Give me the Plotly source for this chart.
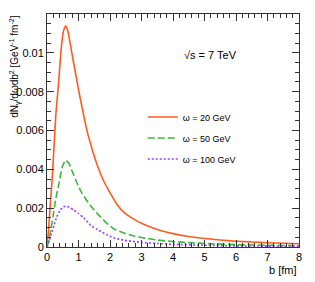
import plotly.graph_objects as go

# impact parameter b [fm]
b_red = [0, 0.05, 0.1, 0.16, 0.2, 0.28, 0.37, 0.45, 0.52, 0.59, 0.65, 0.7, 0.8, 0.9, 1.0, 1.1,
         1.2, 1.3, 1.44, 1.6, 1.8, 2.0, 2.2, 2.44, 2.73, 3.0, 3.5, 4.0, 4.5, 4.86, 5.5, 6.0, 6.5,
         7.0, 7.5, 8.0]
y_red = [0, 0.0009, 0.0021, 0.0034, 0.0045, 0.0068, 0.0085, 0.0102, 0.0111, 0.01138, 0.0112,
         0.0108, 0.0099, 0.0090, 0.0081, 0.0073, 0.0065, 0.0058, 0.0050, 0.0042, 0.0034, 0.0028,
         0.00225, 0.00178, 0.00146, 0.00122, 0.00090, 0.00069, 0.00054, 0.00046, 0.00036,
         0.00030, 0.00026, 0.00022, 0.00019, 0.00017]

b_green = [0, 0.06, 0.1, 0.19, 0.28, 0.38, 0.48, 0.59, 0.7, 0.8, 0.96, 1.1, 1.3, 1.5, 1.7, 1.9,
           2.13, 2.44, 2.73, 3.0, 3.5, 4.0, 5.0, 6.0, 7.0, 8.0]
y_green = [0, 0.00036, 0.0007, 0.00155, 0.0025, 0.00327, 0.0041, 0.00446, 0.0043, 0.0039, 0.00327,
           0.0028, 0.0023, 0.0019, 0.00155, 0.00122, 0.00093, 0.00072, 0.00058, 0.00049, 0.00036,
           0.00028, 0.00018, 0.00012, 0.00009, 0.00007]

b_purple = [0, 0.07, 0.14, 0.22, 0.31, 0.42, 0.52, 0.6, 0.7, 0.85, 1.0, 1.17, 1.4, 1.6, 1.9, 2.13,
            2.44, 2.73, 3.0, 3.5, 4.0, 5.0, 6.0, 7.0, 8.0]
y_purple = [0, 0.0003, 0.0007, 0.0011, 0.00155, 0.0019, 0.00207, 0.0021, 0.00205, 0.0019, 0.00172,
            0.00150, 0.0011, 0.0009, 0.00063, 0.00047, 0.00035, 0.00029, 0.00024, 0.00018, 0.00014,
            0.00009, 0.00006, 0.000045, 0.000035]

names = ["ω = 20 GeV", "ω = 50 GeV", "ω = 100 GeV"]
x_ticks = [0, 1, 2, 3, 4, 5, 6, 7, 8]
y_ticks = [0, 0.002, 0.004, 0.006, 0.008, 0.01]
y_ticklabels = ["0", "0.002", "0.004", "0.006", "0.008", "0.01"]

FONT = "Liberation Sans, Arial, sans-serif"

fig = go.Figure()
series = [
    (b_red, y_red, names[0], "#ff5a1f", "solid"),
    (b_green, y_green, names[1], "#3cb83c", "7px,3px"),
    (b_purple, y_purple, names[2], "#9a40ff", "2px,2px"),
]
for i, (x, y, n, c, d) in enumerate(series):
    fig.add_trace(go.Scatter(x=x, y=y, mode="lines", name=n, legendgroup=str(i),
                             line=dict(color=c, width=1.6, dash=d, shape="spline", smoothing=0.5)))

axis_common = dict(showline=True, linecolor="#333", linewidth=1, mirror="allticks",
                   ticks="inside", ticklen=7, tickcolor="#333", showgrid=False, zeroline=False,
                   automargin=False,
                   tickfont=dict(family=FONT, size=11, color="#000"))

fig.update_xaxes(range=[0, 8], tickvals=x_ticks, ticktext=[str(v) for v in x_ticks],
                 minor=dict(ticks="inside", ticklen=4, dtick=0.2, tickcolor="#333", showgrid=False),
                 **axis_common)
fig.update_yaxes(range=[0, 0.012], tickvals=y_ticks, ticktext=y_ticklabels,
                 minor=dict(ticks="inside", ticklen=4, dtick=0.0005, tickcolor="#333", showgrid=False),
                 **axis_common)

fig.add_annotation(text="dN<sub>γ</sub>/dωdb<sup>2</sup> [GeV<sup>-1</sup> fm<sup>-2</sup>]",
                   xref="paper", yref="paper", x=-0.128, y=1.0, xanchor="center", yanchor="top",
                   textangle=-90, showarrow=False, font=dict(family=FONT, size=10, color="#000"))
fig.add_annotation(text="b [fm]", xref="paper", yref="paper", x=1, y=-0.065, xanchor="right",
                   yanchor="top", showarrow=False, font=dict(family=FONT, size=11, color="#000"))
fig.add_annotation(text="√s = 7 TeV", xref="paper", yref="paper", x=0.647, y=0.824, xanchor="center",
                   yanchor="middle", showarrow=False, font=dict(family=FONT, size=11, color="#000"))

# page body has an 8px margin, so the figure is sized to fit the remaining window
fig.update_layout(
    width=307, height=274,
    margin=dict(l=39, r=16, t=6, b=35),
    paper_bgcolor="white", plot_bgcolor="white",
    showlegend=True,
    legend=dict(x=0.38, y=0.62, xanchor="left", yanchor="top", bgcolor="rgba(0,0,0,0)",
                font=dict(family=FONT, size=9, color="#000"), itemwidth=30, tracegroupgap=2),
)

fig.write_html("out.html")
